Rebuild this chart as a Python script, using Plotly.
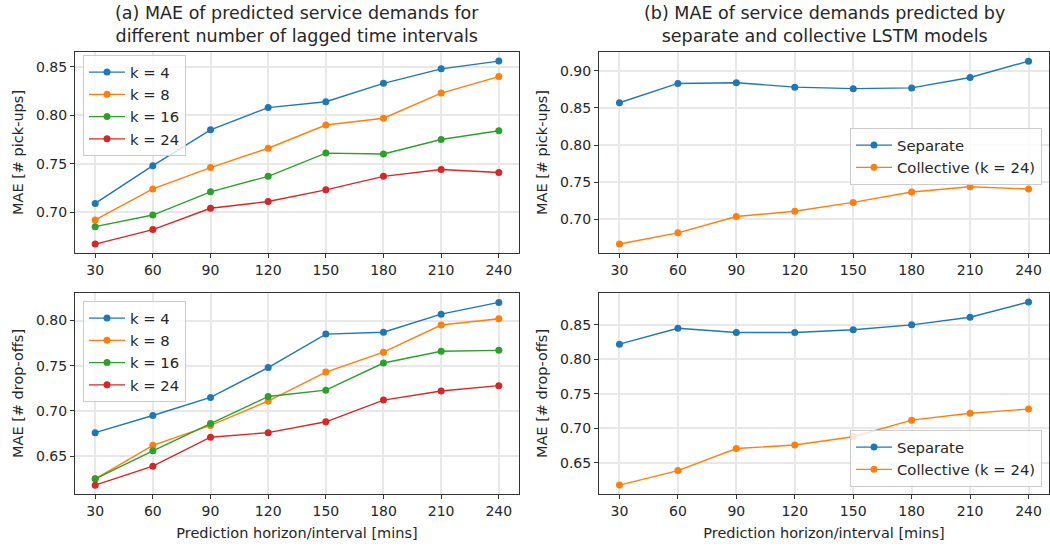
import plotly.graph_objects as go

# Prediction horizons (minutes)
horizons = [30, 60, 90, 120, 150, 180, 210, 240]

# (a) MAE for different numbers of lagged time intervals k
lag_labels = ["k = 4", "k = 8", "k = 16", "k = 24"]
pickups_by_k = [
    [0.709, 0.748, 0.785, 0.808, 0.814, 0.833, 0.848, 0.856],
    [0.692, 0.724, 0.746, 0.766, 0.790, 0.797, 0.823, 0.840],
    [0.685, 0.697, 0.721, 0.737, 0.761, 0.760, 0.775, 0.784],
    [0.667, 0.682, 0.704, 0.711, 0.723, 0.737, 0.744, 0.741],
]
dropoffs_by_k = [
    [0.676, 0.695, 0.715, 0.748, 0.785, 0.787, 0.807, 0.820],
    [0.625, 0.662, 0.684, 0.711, 0.743, 0.765, 0.795, 0.802],
    [0.625, 0.656, 0.686, 0.716, 0.723, 0.753, 0.766, 0.767],
    [0.618, 0.639, 0.671, 0.676, 0.688, 0.712, 0.722, 0.728],
]

# (b) separate vs collective LSTM models
model_labels = ["Separate", "Collective (k = 24)"]
pickups_separate = [0.857, 0.883, 0.884, 0.878, 0.876, 0.877, 0.891, 0.913]
pickups_collective = [0.667, 0.682, 0.704, 0.711, 0.723, 0.737, 0.744, 0.741]
dropoffs_separate = [0.822, 0.845, 0.839, 0.839, 0.843, 0.850, 0.861, 0.883]
dropoffs_collective = [0.618, 0.639, 0.671, 0.676, 0.688, 0.712, 0.722, 0.728]

colors = ["#1f77b4", "#ff7f0e", "#2ca02c", "#d62728"]
FONT = "DejaVu Sans"
TXT = "#262626"

fig = go.Figure()


def add_line(x, y, name, color, xa, ya, legend):
    fig.add_trace(go.Scatter(
        x=x, y=y, name=name, mode="lines+markers",
        line=dict(color=color, width=1.4),
        marker=dict(color=color, size=7),
        xaxis=xa, yaxis=ya, legend=legend,
    ))


for lbl, ys, c in zip(lag_labels, pickups_by_k, colors):
    add_line(horizons, ys, lbl, c, "x", "y", "legend")
for lbl, ys, c in zip(lag_labels, dropoffs_by_k, colors):
    add_line(horizons, ys, lbl, c, "x3", "y3", "legend3")
for lbl, ys, c in zip(model_labels, [pickups_separate, pickups_collective], colors):
    add_line(horizons, ys, lbl, c, "x2", "y2", "legend2")
for lbl, ys, c in zip(model_labels, [dropoffs_separate, dropoffs_collective], colors):
    add_line(horizons, ys, lbl, c, "x4", "y4", "legend4")

W, H = 1050, 548
left_dom = [75 / W, 519 / W]
right_dom = [599 / W, 1049 / W]
top_dom = [1 - 253 / H, 1 - 52 / H]
bot_dom = [1 - 494 / H, 1 - 293 / H]

axis_common = dict(
    showline=True, mirror=True, linecolor="#333333", linewidth=1,
    ticks="outside", ticklen=4, tickcolor="#333333", tickwidth=1,
    showgrid=True, gridcolor="#e8e8e8", gridwidth=1.5,
    zeroline=False, tickfont=dict(family=FONT, size=14, color=TXT),
)

xaxis_common = dict(axis_common, tickmode="array", tickvals=horizons,
                    range=[19.5, 250.5])

xlabel = dict(text="Prediction horizon/interval [mins]",
              font=dict(family=FONT, size=14.5, color=TXT), standoff=10)


def ylabel(text):
    return dict(text=text, font=dict(family=FONT, size=14.5, color=TXT), standoff=8)


legend_common = dict(
    bgcolor="rgba(255,255,255,0.8)", bordercolor="#cccccc", borderwidth=1,
    font=dict(family=FONT, size=14.8, color=TXT), xref="paper", yref="paper",
    tracegroupgap=0, itemwidth=36,
)

yaxis_common = dict(axis_common, dtick=0.05, tick0=0, tickformat=".2f")

fig.update_layout(
    width=W, height=H,
    margin=dict(l=0, r=0, t=0, b=0),
    paper_bgcolor="white", plot_bgcolor="white",
    font=dict(family=FONT, color=TXT),
    xaxis=dict(xaxis_common, domain=left_dom, anchor="y"),
    yaxis=dict(yaxis_common, domain=top_dom, anchor="x", range=[0.6578, 0.8654],
               title=ylabel("MAE [# pick-ups]")),
    xaxis2=dict(xaxis_common, domain=right_dom, anchor="y2"),
    yaxis2=dict(yaxis_common, domain=top_dom, anchor="x2", range=[0.6549, 0.9253],
                title=ylabel("MAE [# pick-ups]")),
    xaxis3=dict(xaxis_common, domain=left_dom, anchor="y3", title=xlabel),
    yaxis3=dict(yaxis_common, domain=bot_dom, anchor="x3", range=[0.6082, 0.8304],
                title=ylabel("MAE [# drop-offs]")),
    xaxis4=dict(xaxis_common, domain=right_dom, anchor="y4", title=xlabel),
    yaxis4=dict(yaxis_common, domain=bot_dom, anchor="x4", range=[0.6051, 0.8961],
                title=ylabel("MAE [# drop-offs]")),
    legend=dict(legend_common, x=83 / W, y=1 - 55 / H, xanchor="left", yanchor="top"),
    legend3=dict(legend_common, x=83 / W, y=1 - 301 / H, xanchor="left", yanchor="top"),
    legend2=dict(legend_common, x=1042 / W, y=1 - 128 / H, xanchor="right", yanchor="top"),
    legend4=dict(legend_common, x=1042 / W, y=1 - 487 / H, xanchor="right", yanchor="bottom"),
    annotations=[
        dict(text="(a) MAE of predicted service demands for<br>different number of lagged time intervals",
             x=(75 + 519) / 2 / W, y=1 - 48 / H, xref="paper", yref="paper",
             xanchor="center", yanchor="bottom", showarrow=False,
             font=dict(family=FONT, size=17.5, color=TXT)),
        dict(text="(b) MAE of service demands predicted by<br>separate and collective LSTM models",
             x=(599 + 1049) / 2 / W, y=1 - 48 / H, xref="paper", yref="paper",
             xanchor="center", yanchor="bottom", showarrow=False,
             font=dict(family=FONT, size=17.5, color=TXT)),
    ],
)

fig.write_html("out.html")
